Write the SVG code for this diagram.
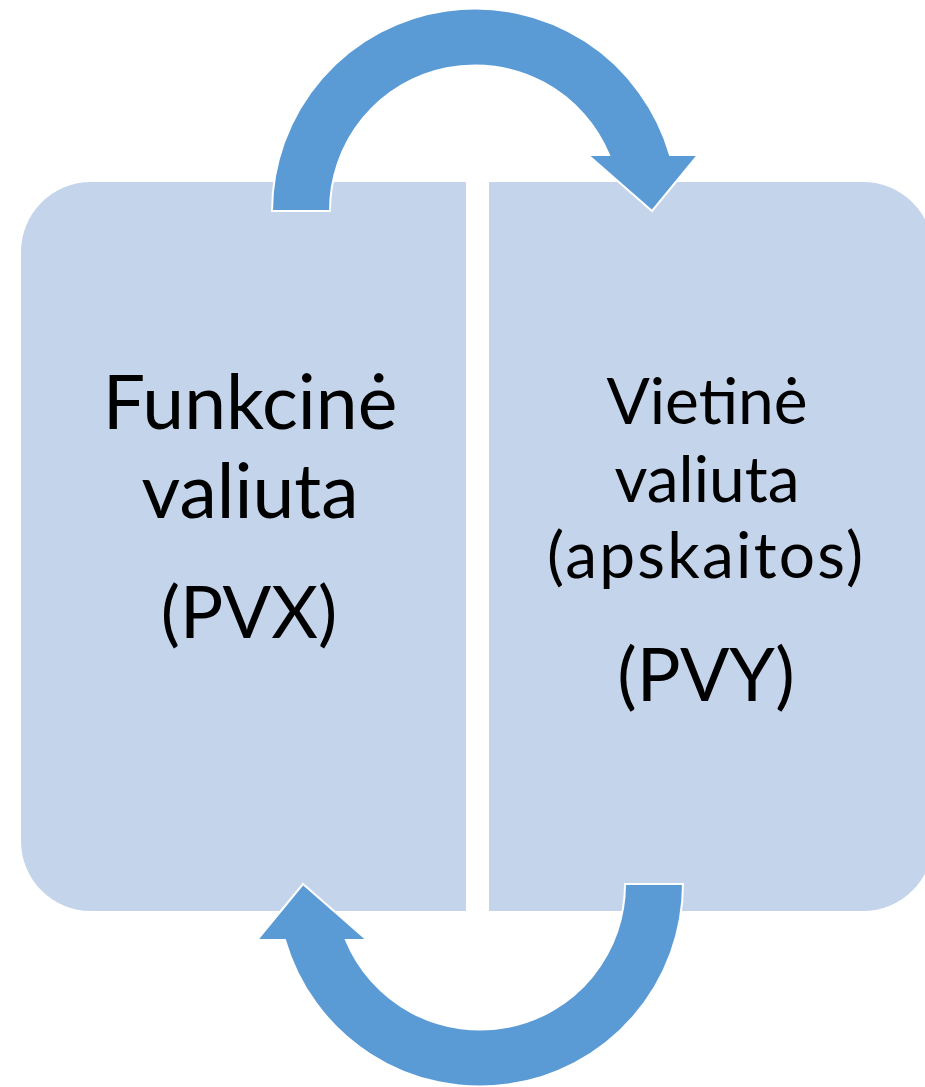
<svg xmlns="http://www.w3.org/2000/svg" width="925" height="1087" viewBox="0 0 925 1087">
  <style>
    .box { fill: #C4D4EA; }
    .arrow { fill: #5B9BD5; stroke: #FFFFFF; stroke-width: 2; stroke-linejoin: miter; }
    .lbl { font-family: Lato, "Open Sans", "Liberation Sans", sans-serif; fill: #000000; text-anchor: middle; }
  </style>
  <defs>
    <path id="circArrow" d="M 272 211 A 203 203 0 0 1 670 155 L 698 155 L 652 211 L 588 155 L 609 155 A 145 145 0 0 0 330 211 Z"/>
  </defs>
  <rect width="925" height="1087" fill="#FFFFFF"/>
  <g id="node-functional">
    <path class="box" d="M 91 182 H 466 V 911 H 91 A 70 70 0 0 1 21 841 V 252 A 70 70 0 0 1 91 182 Z"/>
    <text class="lbl" x="250" y="429" font-size="75">Funkcinė</text>
    <text class="lbl" x="250" y="518" font-size="75">valiuta</text>
    <text class="lbl" x="249" y="638" font-size="72">(PVX)</text>
  </g>
  <g id="node-local">
    <path class="box" d="M 489 182 H 863 A 70 70 0 0 1 933 252 V 841 A 70 70 0 0 1 863 911 H 489 Z"/>
    <text class="lbl" x="707" y="424" font-size="64">Vietinė</text>
    <text class="lbl" x="707" y="502" font-size="64">valiuta</text>
    <text class="lbl" x="705" y="578" font-size="64" textLength="316" lengthAdjust="spacing">(apskaitos)</text>
    <text class="lbl" x="706" y="701" font-size="73">(PVY)</text>
  </g>
  <g id="connectors">
    <use href="#circArrow" class="arrow"/>
    <use href="#circArrow" class="arrow" transform="rotate(180 477.5 547.5)"/>
  </g>
</svg>
